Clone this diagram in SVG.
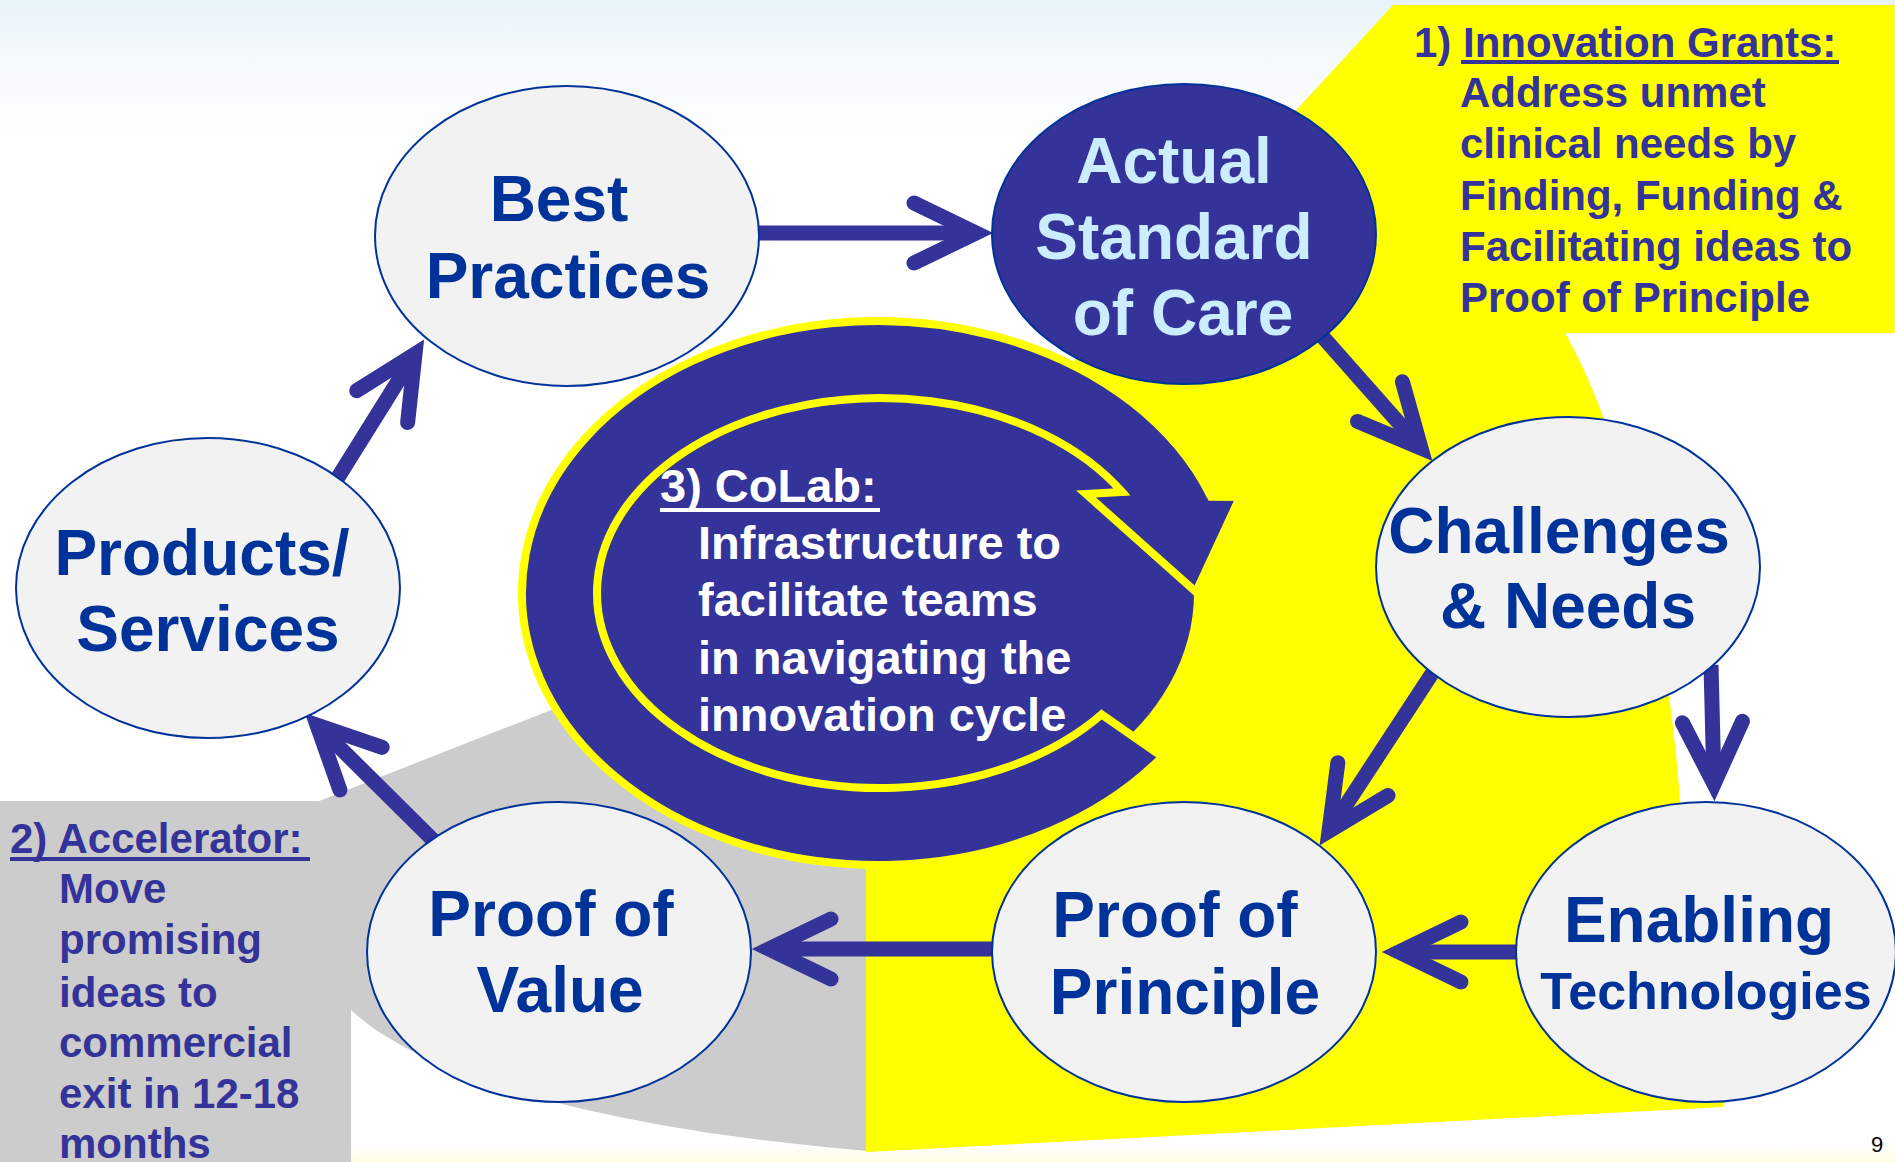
<svg xmlns="http://www.w3.org/2000/svg" width="1895" height="1162" viewBox="0 0 1895 1162">
<defs>
<linearGradient id="topfade" x1="0" y1="0" x2="0" y2="1">
<stop offset="0" stop-color="#E8F3FA"/>
<stop offset="1" stop-color="#FFFFFF" stop-opacity="0"/>
</linearGradient>
<linearGradient id="botfade" x1="0" y1="0" x2="0" y2="1">
<stop offset="0" stop-color="#FFFFFF" stop-opacity="0"/>
<stop offset="1" stop-color="#FFFBE0"/>
</linearGradient>
<marker id="head" markerUnits="userSpaceOnUse" orient="auto" refX="0" refY="0" markerWidth="100" markerHeight="100" viewBox="-80 -50 100 100" overflow="visible">
<path d="M-62,-30 L0,0 L-62,30" fill="none" stroke="#333399" stroke-width="15" stroke-linecap="round" stroke-linejoin="miter" stroke-miterlimit="4"/>
</marker>
<style>
.node{fill:#F2F2F2;stroke:#003399;stroke-width:2}
.dark{fill:#333399;stroke:#003399;stroke-width:2}
.nt{font-family:"Liberation Sans",Arial,sans-serif;font-weight:bold;font-size:64px;fill:#003399;text-anchor:middle}
.lt{fill:#CCECFF}
.ct{font-family:"Liberation Sans",Arial,sans-serif;font-weight:bold;font-size:42px;fill:#333399}
.wt{font-family:"Liberation Sans",Arial,sans-serif;font-weight:bold;font-size:47px;fill:#FFFFFF}
.conn{fill:none;stroke:#333399;stroke-width:15;marker-end:url(#head)}
</style>
</defs>
<rect width="1895" height="1162" fill="#FFFFFF"/>
<rect width="1895" height="190" fill="url(#topfade)"/>
<rect y="1138" width="1895" height="24" fill="url(#botfade)"/>

<g id="background-regions">
<path d="M0,801 L319,801 L620,683 L866,683 L866,1152 L880,1152 C600,1130 420,1075 351,1010 L351,1162 L0,1162 Z" fill="#CCCCCC"/>
<path d="M1393,5 L1895,5 L1895,333 L1565,333 C1620,430 1665,600 1680,800 L1723,1080 L1723,1107 L866,1152 L866,683 L1060,400 L1080,345 Z" fill="#FFFF00"/>
</g>

<g id="colab">
<ellipse cx="878" cy="593" rx="316" ry="236" fill="#333399"/>
<path d="M1101.5,714.4 L1162.3,756.7 A356,272 0 1 1 1211,496.8 L1240,497 L1196,592 L1086,494 L1122.1,492 A283,195 0 1 0 1101.5,714.4 Z" fill="#333399" stroke="#FFFF00" stroke-width="8" stroke-linejoin="miter"/>
<text class="wt" x="660" y="502">3) CoLab:</text>
<rect x="660" y="508" width="220" height="4" fill="#FFFFFF"/>
<text class="wt" x="698" y="559">Infrastructure to</text>
<text class="wt" x="698" y="616">facilitate teams</text>
<text class="wt" x="698" y="674">in navigating the</text>
<text class="wt" x="698" y="731">innovation cycle</text>
</g>

<g id="callout-grants">
<text class="ct" x="1414" y="57">1) Innovation Grants:</text>
<rect x="1461" y="60" width="378" height="4" fill="#333399"/>
<text class="ct" x="1460" y="107">Address unmet</text>
<text class="ct" x="1460" y="158">clinical needs by</text>
<text class="ct" x="1460" y="210">Finding, Funding &amp;</text>
<text class="ct" x="1460" y="261">Facilitating ideas to</text>
<text class="ct" x="1460" y="312">Proof of Principle</text>
</g>

<g id="callout-accelerator">
<text class="ct" x="10" y="853">2) Accelerator:</text>
<rect x="10" y="857" width="300" height="4" fill="#333399"/>
<text class="ct" x="59" y="903">Move</text>
<text class="ct" x="59" y="954">promising</text>
<text class="ct" x="59" y="1007">ideas to</text>
<text class="ct" x="59" y="1057">commercial</text>
<text class="ct" x="59" y="1108">exit in 12-18</text>
<text class="ct" x="59" y="1158">months</text>
</g>

<g id="connectors">
<path class="conn" d="M759,233 L976,233"/>
<path class="conn" d="M1322,336 L1421,448"/>
<path class="conn" d="M1433,672 L1329,831"/>
<path class="conn" d="M1711,665 L1714,784"/>
<path class="conn" d="M1522,952 L1399,952"/>
<path class="conn" d="M992,949 L769,949"/>
<path class="conn" d="M436,843 L317,725"/>
<path class="conn" d="M337,479 L415,354"/>
</g>

<g id="node-best-practices">
<ellipse class="node" cx="567" cy="236" rx="192" ry="150"/>
<text class="nt" x="559" y="221">Best</text>
<text class="nt" x="568" y="298">Practices</text>
</g>
<g id="node-actual-standard">
<ellipse class="dark" cx="1184" cy="234" rx="192" ry="150"/>
<text class="nt lt" x="1174" y="183">Actual</text>
<text class="nt lt" x="1174" y="259">Standard</text>
<text class="nt lt" x="1183" y="335">of Care</text>
</g>
<g id="node-challenges">
<ellipse class="node" cx="1568" cy="567" rx="192" ry="150"/>
<text class="nt" x="1559" y="553">Challenges</text>
<text class="nt" x="1568" y="628">&amp; Needs</text>
</g>
<g id="node-enabling">
<ellipse class="node" cx="1706" cy="952" rx="190" ry="150"/>
<text class="nt" x="1699" y="942">Enabling</text>
<text class="nt" x="1706" y="1009" style="font-size:52px">Technologies</text>
</g>
<g id="node-proof-principle">
<ellipse class="node" cx="1184" cy="952" rx="192" ry="150"/>
<text class="nt" x="1175" y="937">Proof of</text>
<text class="nt" x="1185" y="1014">Principle</text>
</g>
<g id="node-proof-value">
<ellipse class="node" cx="559" cy="952" rx="192" ry="150"/>
<text class="nt" x="551" y="936">Proof of</text>
<text class="nt" x="560" y="1012">Value</text>
</g>
<g id="node-products">
<ellipse class="node" cx="208" cy="588" rx="192" ry="150"/>
<text class="nt" x="202" y="575">Products/</text>
<text class="nt" x="208" y="651">Services</text>
</g>

<text x="1871" y="1152" font-family="Liberation Sans, Arial, sans-serif" font-size="22" fill="#000000">9</text>
</svg>
